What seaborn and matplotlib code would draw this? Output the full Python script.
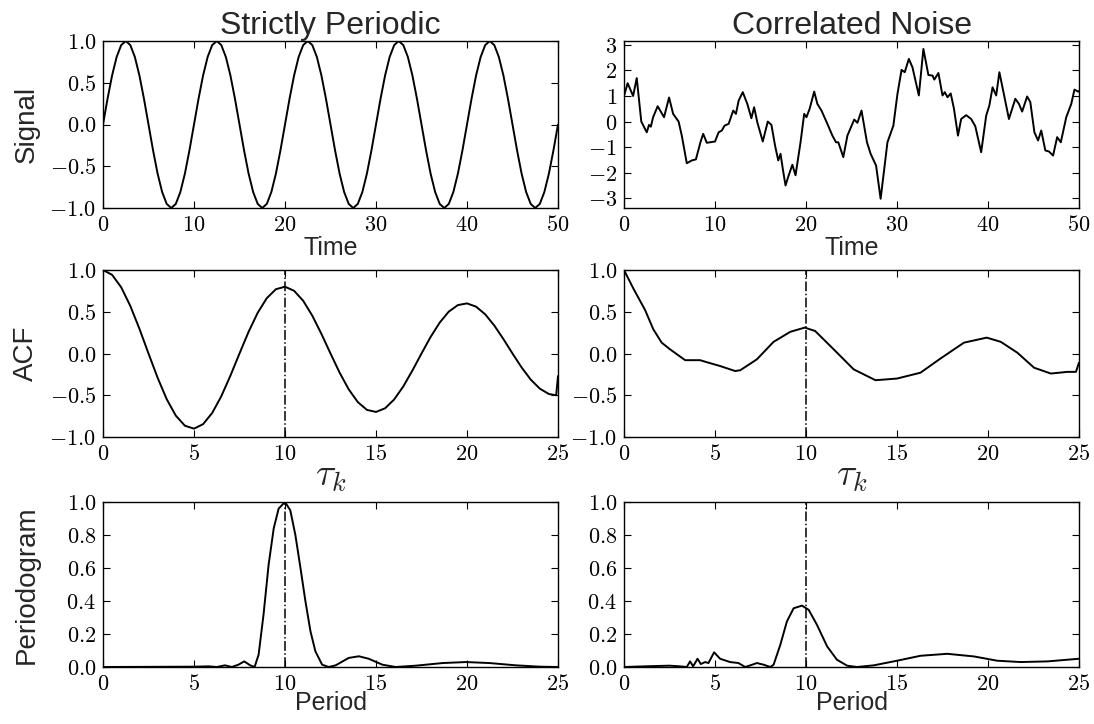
import numpy as np
import pandas as pd
import matplotlib
matplotlib.use("Agg")
import matplotlib.pyplot as plt
from matplotlib.ticker import FuncFormatter, MultipleLocator
import seaborn as sns

# ---------------- data ----------------
periodic_time = [0.0, 0.5, 1.0, 1.5, 2.0, 2.5, 3.0, 3.5, 4.0, 4.5,
                 5.0, 5.5, 6.0, 6.5, 7.0, 7.5, 8.0, 8.5, 9.0, 9.5,
                 10.0, 10.5, 11.0, 11.5, 12.0, 12.5, 13.0, 13.5, 14.0, 14.5,
                 15.0, 15.5, 16.0, 16.5, 17.0, 17.5, 18.0, 18.5, 19.0, 19.5,
                 20.0, 20.5, 21.0, 21.5, 22.0, 22.5, 23.0, 23.5, 24.0, 24.5,
                 25.0, 25.5, 26.0, 26.5, 27.0, 27.5, 28.0, 28.5, 29.0, 29.5,
                 30.0, 30.5, 31.0, 31.5, 32.0, 32.5, 33.0, 33.5, 34.0, 34.5,
                 35.0, 35.5, 36.0, 36.5, 37.0, 37.5, 38.0, 38.5, 39.0, 39.5,
                 40.0, 40.5, 41.0, 41.5, 42.0, 42.5, 43.0, 43.5, 44.0, 44.5,
                 45.0, 45.5, 46.0, 46.5, 47.0, 47.5, 48.0, 48.5, 49.0, 49.5,
                 50.0]
periodic_signal = [0.0, 0.309, 0.588, 0.809, 0.951, 1.0, 0.951, 0.809, 0.588, 0.309,
                   0.0, -0.309, -0.588, -0.809, -0.951, -1.0, -0.951, -0.809, -0.588, -0.309,
                   0.0, 0.309, 0.588, 0.809, 0.951, 1.0, 0.951, 0.809, 0.588, 0.309,
                   0.0, -0.309, -0.588, -0.809, -0.951, -1.0, -0.951, -0.809, -0.588, -0.309,
                   0.0, 0.309, 0.588, 0.809, 0.951, 1.0, 0.951, 0.809, 0.588, 0.309,
                   0.0, -0.309, -0.588, -0.809, -0.951, -1.0, -0.951, -0.809, -0.588, -0.309,
                   0.0, 0.309, 0.588, 0.809, 0.951, 1.0, 0.951, 0.809, 0.588, 0.309,
                   0.0, -0.309, -0.588, -0.809, -0.951, -1.0, -0.951, -0.809, -0.588, -0.309,
                   0.0, 0.309, 0.588, 0.809, 0.951, 1.0, 0.951, 0.809, 0.588, 0.309,
                   0.0, -0.309, -0.588, -0.809, -0.951, -1.0, -0.951, -0.809, -0.588, -0.309,
                   0.0]

noise_time = [0.0, 0.4, 1.0, 1.4, 1.9, 2.5, 2.75, 2.95, 3.2, 3.7, 4.4, 4.95, 5.4, 6.0,
              6.35, 6.9, 7.45, 7.9, 8.4, 8.7, 9.1, 10.0, 10.4, 10.75, 11.05, 11.5, 12.0,
              12.3, 12.6, 13.05, 13.55, 14.0, 14.3, 14.65, 15.25, 15.8, 16.2, 16.6, 16.95,
              17.2, 17.45, 17.75, 18.1, 18.5, 18.85, 19.4, 19.8, 20.05, 20.4, 20.9, 21.25,
              21.7, 22.35, 22.9, 23.3, 23.55, 24.1, 24.55, 25.3, 25.65, 26.1, 26.7, 27.1,
              27.7, 28.2, 28.6, 28.95, 29.6, 30.05, 30.5, 30.85, 31.3, 31.7, 32.4, 32.9,
              33.45, 33.9, 34.1, 34.55, 35.0, 35.25, 35.55, 35.9, 36.25, 36.7, 37.05, 37.6,
              38.15, 38.6, 39.25, 39.8, 40.15, 40.5, 40.9, 41.25, 41.7, 42.3, 43.0, 43.4,
              43.75, 44.3, 44.65, 45.1, 45.5, 45.85, 46.3, 46.7, 47.15, 47.6, 48.0, 48.6,
              49.15, 49.5, 49.9, 50.0]
noise_signal = [1.0, 1.5, 1.0, 1.7, 0.0, -0.42, -0.13, -0.2, 0.17, 0.6, 0.17, 0.94, 0.3, 0.0,
                -0.55, -1.63, -1.52, -1.48, -0.81, -0.48, -0.83, -0.78, -0.42, -0.35, -0.16,
                -0.09, 0.43, 0.3, 0.82, 1.15, 0.69, 0.13, 0.56, -0.03, -0.78, 0.0, -0.13,
                -0.94, -1.52, -1.26, -1.85, -2.5, -2.1, -1.69, -2.1, -0.81, 0.3, 0.17, 0.5,
                1.17, 0.69, 0.43, -0.09, -0.55, -0.81, -0.81, -1.39, -0.55, 0.08, -0.05, 0.43,
                -0.81, -1.26, -1.72, -3.02, -1.85, -0.81, -0.16, 1.08, 2.02, 1.93, 2.45, 2.12,
                1.02, 2.84, 1.82, 1.8, 1.64, 1.9, 1.02, 1.15, 0.95, 1.1, 0.52, -0.55, 0.1,
                0.25, 0.1, -0.18, -1.2, 0.23, 0.63, 1.34, 1.02, 1.93, 1.15, 0.1, 0.89, 0.69,
                0.39, 0.98, 0.76, -0.42, -0.74, -0.35, -1.13, -1.17, -1.33, -0.61, -0.81,
                0.17, 0.69, 1.25, 1.17, 1.2]

acf_lag = [0.0, 0.5, 1.0, 1.5, 2.0, 2.5, 3.0, 3.5, 4.0, 4.5,
           5.0, 5.5, 6.0, 6.5, 7.0, 7.5, 8.0, 8.5, 9.0, 9.5,
           10.0, 10.5, 11.0, 11.5, 12.0, 12.5, 13.0, 13.5, 14.0, 14.5,
           15.0, 15.5, 16.0, 16.5, 17.0, 17.5, 18.0, 18.5, 19.0, 19.5,
           20.0, 20.5, 21.0, 21.5, 22.0, 22.5, 23.0, 23.5, 24.0, 24.5,
           24.9, 25.0]
periodic_acf = [1.0, 0.942, 0.793, 0.570, 0.297, 0.0, -0.290, -0.547, -0.744, -0.865,
                -0.900, -0.846, -0.712, -0.512, -0.266, 0.0, 0.260, 0.488, 0.663, 0.770,
                0.800, 0.751, 0.631, 0.453, 0.235, 0.0, -0.229, -0.429, -0.582, -0.675,
                -0.700, -0.656, -0.550, -0.394, -0.204, 0.0, 0.198, 0.370, 0.502, 0.580,
                0.600, 0.561, 0.469, 0.335, 0.173, 0.0, -0.167, -0.312, -0.421, -0.485,
                -0.500, -0.270]

noise_acf_lag = [0.0, 0.51, 1.16, 1.61, 2.07, 2.53, 3.36, 4.18, 4.64, 5.28, 6.11, 6.39,
                 7.3, 8.22, 9.14, 9.93, 10.5, 11.52, 12.62, 13.82, 15.0, 16.29, 17.39,
                 18.68, 19.93, 20.7, 21.61, 22.53, 23.45, 24.37, 24.83, 25.0]
noise_acf = [1.0, 0.78, 0.52, 0.29, 0.13, 0.05, -0.08, -0.08, -0.11, -0.15, -0.21, -0.2,
             -0.07, 0.14, 0.26, 0.31, 0.27, 0.05, -0.19, -0.32, -0.3, -0.23, -0.06,
             0.13, 0.19, 0.14, 0.01, -0.17, -0.24, -0.22, -0.22, -0.11]

periodic_period = [0.0, 5.05, 5.8, 6.25, 6.7, 7.08, 7.44, 7.76, 8.09, 8.33, 8.55, 8.82,
                   9.1, 9.38, 9.65, 10.0, 10.29, 10.57, 10.85, 11.12, 11.4, 11.67, 12.04,
                   12.4, 12.78, 13.5, 14.06, 14.6, 15.35, 16.08, 17.19, 18.66, 19.94,
                   21.23, 22.7, 23.99, 25.0]
periodic_power = [0.0, 0.002, 0.004, 0.0, 0.01, 0.0, 0.014, 0.034, 0.01, 0.0, 0.075, 0.317,
                  0.62, 0.84, 0.96, 1.0, 0.95, 0.8, 0.6, 0.4, 0.216, 0.095, 0.014,
                  0.0, 0.01, 0.055, 0.065, 0.05, 0.014, 0.0, 0.008, 0.024, 0.03,
                  0.024, 0.01, 0.002, 0.0]

noise_period = [0.0, 1.43, 2.5, 3.08, 3.45, 3.63, 3.8, 4.04, 4.22, 4.46, 4.64, 4.95, 5.28,
                5.83, 6.29, 6.66, 6.94, 7.3, 7.67, 8.04, 8.22, 8.59, 8.95, 9.32, 9.78,
                10.15, 10.6, 11.16, 11.7, 12.26, 12.8, 13.72, 15.0, 16.29, 17.76, 19.23,
                20.51, 21.8, 23.27, 25.0]
noise_power = [0.0, 0.005, 0.008, 0.004, 0.0, 0.034, 0.004, 0.05, 0.018, 0.03, 0.024, 0.089,
               0.05, 0.03, 0.024, 0.0, 0.01, 0.024, 0.014, 0.0, 0.014, 0.135, 0.276, 0.356,
               0.372, 0.346, 0.256, 0.125, 0.044, 0.008, 0.0, 0.01, 0.038, 0.068, 0.08,
               0.064, 0.038, 0.03, 0.034, 0.05]

column_titles = ["Strictly Periodic", "Correlated Noise"]
row_ylabels = ["Signal", "ACF", "Periodogram"]
row_xlabels = ["Time", r"$\tau_k$", "Period"]
marked_period = 10

# ---------------- style ----------------
sns.set_style("ticks")
plt.rcParams.update({
    "font.family": ["Liberation Sans", "DejaVu Sans"],
    "mathtext.fontset": "cm",
    "xtick.direction": "in",
    "ytick.direction": "in",
    "xtick.top": True,
    "ytick.right": True,
    "xtick.major.size": 5,
    "ytick.major.size": 5,
    "xtick.major.width": 0.8,
    "ytick.major.width": 0.8,
    "axes.linewidth": 1.0,
    "axes.edgecolor": "black",
    "xtick.color": "black",
    "ytick.color": "black",
})

W, H = 1094, 724
fig = plt.figure(figsize=(W / 100, H / 100), dpi=100)

col_left = [103, 624]
col_width = 455
row_top = [41, 270, 502]
row_height = [167, 167, 165]

axes = [[None, None] for _ in range(3)]
for r in range(3):
    for c in range(2):
        l = col_left[c] / W
        b = 1 - (row_top[r] + row_height[r]) / H
        axes[r][c] = fig.add_axes([l, b, col_width / W, row_height[r] / H])

series = [
    [(periodic_time, periodic_signal), (noise_time, noise_signal)],
    [(acf_lag, periodic_acf), (noise_acf_lag, noise_acf)],
    [(periodic_period, periodic_power), (noise_period, noise_power)],
]

xlabel_pad = [0, -5, -3]
for r in range(3):
    for c in range(2):
        ax = axes[r][c]
        xs, ys = series[r][c]
        df = pd.DataFrame({"x": xs, "y": ys})
        sns.lineplot(data=df, x="x", y="y", ax=ax, color="black", linewidth=1.4,
                     sort=False, estimator=None)
        if r > 0:
            ax.axvline(marked_period, color="black", linestyle="-.", linewidth=1.1)
        ax.set_xlabel(row_xlabels[r], fontsize=27 if r == 1 else 18,
                      labelpad=xlabel_pad[r])
        ax.set_ylabel(row_ylabels[r] if c == 0 else "", fontsize=20)

# axis limits and ticks
fmt1 = FuncFormatter(lambda v, p: f"${v:.1f}$")
fmt0 = FuncFormatter(lambda v, p: f"${v:.0f}$")
for c in range(2):
    axes[0][c].set_xlim(0, 50)
    axes[0][c].xaxis.set_major_locator(MultipleLocator(10))
    axes[1][c].set_xlim(0, 25)
    axes[1][c].set_ylim(-1, 1)
    axes[1][c].yaxis.set_major_locator(MultipleLocator(0.5))
    axes[1][c].yaxis.set_major_formatter(fmt1)
    axes[2][c].set_xlim(0, 25)
    axes[2][c].set_ylim(0, 1)
    axes[2][c].yaxis.set_major_locator(MultipleLocator(0.2))
    axes[2][c].yaxis.set_major_formatter(fmt1)
    for r in range(1, 3):
        axes[r][c].xaxis.set_major_locator(MultipleLocator(5))
    for r in range(3):
        axes[r][c].xaxis.set_major_formatter(fmt0)
        axes[r][c].tick_params(labelsize=16, pad=5)
    axes[0][c].set_title(column_titles[c], fontsize=23, pad=5)

axes[0][0].set_ylim(-1, 1)
axes[0][0].yaxis.set_major_locator(MultipleLocator(0.5))
axes[0][0].yaxis.set_major_formatter(fmt1)
axes[0][1].set_ylim(-3.38, 3.15)
axes[0][1].yaxis.set_major_locator(MultipleLocator(1))
axes[0][1].yaxis.set_major_formatter(fmt0)

for r in range(3):
    axes[r][0].yaxis.set_label_coords(-0.14, 0.5)

fig.savefig("out.png", dpi=100)
